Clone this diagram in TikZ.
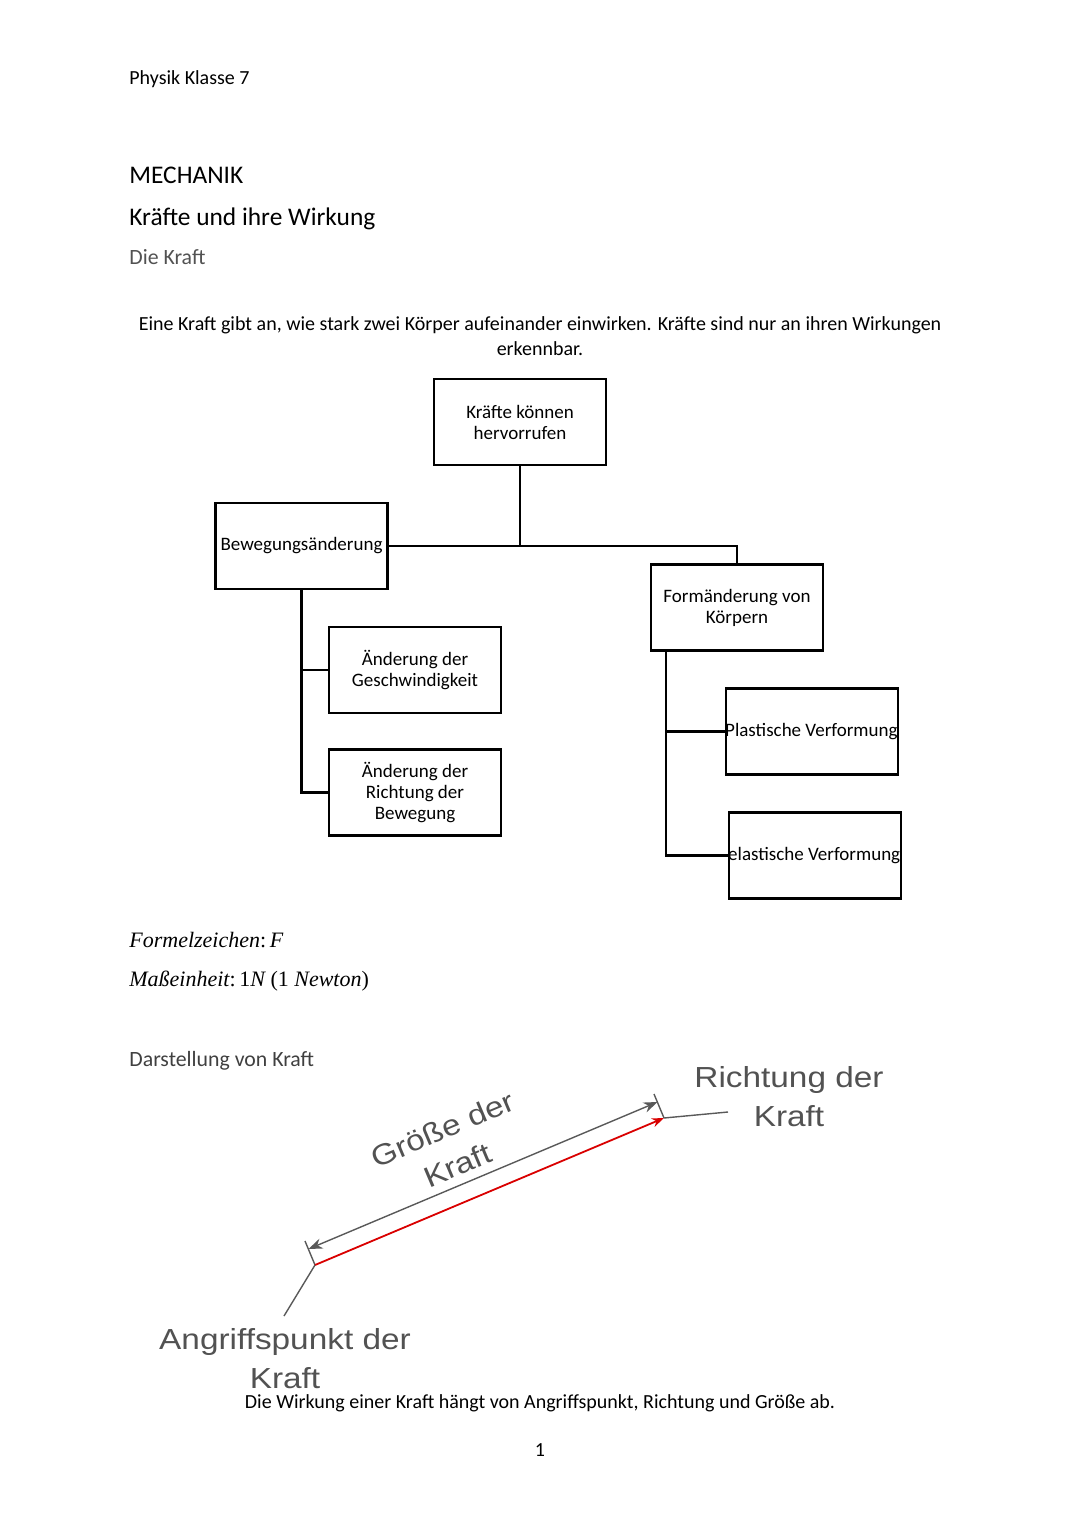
\documentclass[tikz,border=0pt]{standalone}
\usepackage{fontspec}
\setmainfont{Carlito}
\newfontfamily\labelfont[FakeStretch=1.15]{Liberation Sans}
\newfontfamily\formelfont{Liberation Serif}
\usetikzlibrary{arrows.meta}

\begin{document}
\begin{tikzpicture}[x=0.5pt, y=-0.5pt,
    kasten/.style={draw, line width=1.2pt, minimum width=86pt, minimum height=43pt, align=center, inner sep=1pt, font=\fontsize{9.5}{10.5}\selectfont},
    ast/.style={line width=1.2pt},
    zeile/.style={anchor=base west, inner sep=0pt},
    mitte/.style={anchor=base, inner sep=0pt, font=\fontsize{10}{12}\selectfont},
    beschr/.style={text=black!68, align=center, inner sep=0pt, font=\labelfont\fontsize{14.5}{19.5}\selectfont}]
  \useasboundingbox (0,0) rectangle (1080,1527);

  % kopf und ueberschriften
  \node[zeile, font=\fontsize{10}{12}\selectfont] (kopf) at (129,84) {Physik Klasse 7};
  \node[zeile, font=\fontsize{12.7}{15}\selectfont] (mechanik) at (129,183) {MECHANIK};
  \node[zeile, font=\fontsize{12.7}{15}\selectfont] (wirkung) at (129,225) {Kräfte und ihre Wirkung};
  \node[zeile, text=black!68, font=\fontsize{10.9}{13}\selectfont] (diekraft) at (129,264) {Die Kraft};

  \node[mitte] (erkl1) at (540,330) {Eine Kraft gibt an, wie stark zwei Körper aufeinander einwirken. Kräfte sind nur an ihren Wirkungen};
  \node[mitte] (erkl2) at (540,355) {erkennbar.};

  % baum
  \node[kasten] (kraefte) at (520,422) {Kräfte können\\hervorrufen};
  \node[kasten] (beweg) at (301.5,546) {Bewegungsänderung};
  \node[kasten] (form) at (737,607.5) {Formänderung von\\Körpern};
  \node[kasten] (geschw) at (415,670) {Änderung der\\Geschwindigkeit};
  \node[kasten] (richt) at (415,792.5) {Änderung der\\Richtung der\\Bewegung};
  \node[kasten] (plast) at (812,731.5) {};
  \node[kasten] (elast) at (815,855.5) {};
  \node[anchor=west, inner sep=0pt, font=\fontsize{9.5}{10.5}\selectfont] (plasttext) at (plast.west) {Plastische Verformung};
  \node[anchor=west, inner sep=0pt, font=\fontsize{9.5}{10.5}\selectfont] (elasttext) at (elast.west) {elastische Verformung};

  \draw[ast] (kraefte.south) -- (kraefte.south |- beweg.east);
  \draw[ast] (beweg.east) -- (form.north |- beweg.east) -- (form.north);
  \draw[ast] (beweg.south) |- (richt.west);
  \draw[ast] (beweg.south |- geschw.west) -- (geschw.west);
  \coordinate (fstamm) at (666,651);
  \draw[ast] (fstamm) |- (elast.west);
  \draw[ast] (fstamm |- plast.west) -- (plast.west);

  % formelzeichen
  \node[zeile, font=\formelfont\fontsize{11}{13}\selectfont] (zeichen) at (129,947) {\itshape Formelzeichen\upshape:\,\itshape F};
  \node[zeile, font=\formelfont\fontsize{11}{13}\selectfont] (einheit) at (129,986) {\itshape Maßeinheit\upshape:\,1\itshape N \upshape(1 \itshape Newton\upshape)};

  \node[zeile, text=black!75, font=\fontsize{10.9}{13}\selectfont] (darst) at (129,1066) {Darstellung von Kraft};

  % kraftpfeil
  \coordinate (fuss) at (315,1265);
  \coordinate (spitze) at (664,1118);
  \coordinate (fussmarke) at (305,1241);
  \coordinate (spitzmarke) at (654,1094);
  \coordinate (masslinks) at (308.5,1249);
  \coordinate (massrechts) at (657.5,1102);
  \coordinate (angriff) at (284,1316);
  \coordinate (richtung) at (728,1112);

  \draw[black!65, line width=0.7pt] (fuss) -- (fussmarke);
  \draw[black!65, line width=0.7pt] (spitze) -- (spitzmarke);
  \draw[black!65, line width=0.7pt, {Stealth[length=7pt]}-{Stealth[length=7pt]}] (masslinks) -- (massrechts);
  \draw[red!85!black, line width=0.9pt, -{Stealth[length=6pt]}] (fuss) -- (spitze);
  \draw[black!65, line width=0.7pt] (fuss) -- (angriff);
  \draw[black!65, line width=0.7pt] (spitze) -- (richtung);

  \node[beschr, rotate=22.9] (groesse) at (450,1147) {Größe der\\Kraft};
  \node[beschr] (richtungtext) at (789,1097) {Richtung der\\Kraft};
  \node[beschr] (angrifftext) at (285,1359) {Angriffspunkt der\\Kraft};

  \node[mitte] (fazit) at (540,1408) {Die Wirkung einer Kraft hängt von Angriffspunkt, Richtung und Größe ab.};
  \node[mitte] (seite) at (540,1456) {1};
\end{tikzpicture}
\end{document}
